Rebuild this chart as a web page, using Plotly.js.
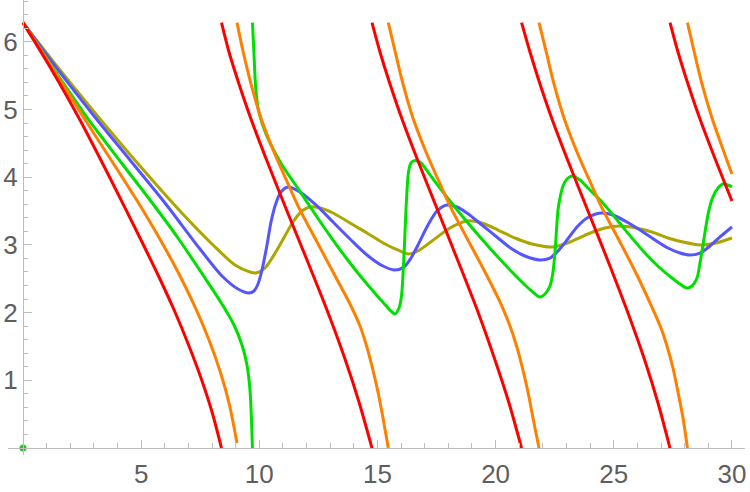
<!DOCTYPE html>
<html>
<head>
<meta charset="utf-8">
<script src="https://cdn.plot.ly/plotly-3.0.1.min.js"></script>
<style>html,body{margin:0;padding:0;background:#fff;}#chart{width:750px;height:492px;}</style>
</head>
<body>
<div id="chart"></div>
<script>
// Values; null separates the wrapped branches of a curve.
const redX = [0,1.143,2.412,3.682,4.994,5.755,6.432,7.025,7.533,8.0,8.40, null,
  8.40,8.718,9.141,9.649,10.326,11.172,12.019,12.865,13.627,14.219,14.769, null,
  14.769,15.108,15.531,16.039,16.716,17.562,18.409,19.255,19.975,20.567,21.10, null,
  21.10,21.456,21.879,22.387,23.064,23.910,24.757,25.603,26.323,26.873,27.381, null,
  27.381,27.719,28.142,28.650,29.327,30.004];
const redY = [6.283,5.628,4.845,3.988,3.072,2.526,2.009,1.507,1.034,0.532,0, null,
  6.283,5.849,5.377,4.860,4.239,3.501,2.777,2.038,1.315,0.680,0, null,
  6.283,5.849,5.377,4.860,4.239,3.501,2.762,2.009,1.300,0.665,0, null,
  6.283,5.849,5.377,4.860,4.239,3.501,2.762,1.994,1.285,0.665,0, null,
  6.283,5.849,5.377,4.860,4.239,3.649];

const orangeX = [0,1.354,2.581,3.893,4.994,5.840,6.602,7.279,7.871,8.337,8.718,9.056, null,
  9.056,9.310,9.649,10.072,10.622,11.257,11.722,12.442,13.119,13.839,14.262,14.515,14.769,15.023,15.235,15.46, null,
  15.46,15.743,16.081,16.504,17.055,17.689,18.155,18.874,19.551,20.229,20.609,20.863,21.117,21.371,21.583,21.837, null,
  21.837,22.133,22.471,22.895,23.445,24.080,24.545,25.264,25.941,26.576,26.999,27.253,27.507,27.719,27.931,28.12, null,
  28.12,28.396,28.735,29.158,29.708,30.004];
const orangeY = [6.283,5.554,4.874,4.165,3.560,3.058,2.570,2.083,1.595,1.137,0.665,0.074, null,
  6.283,5.864,5.377,4.874,4.372,3.870,3.516,3.043,2.600,2.127,1.802,1.536,1.211,0.827,0.443,0, null,
  6.283,5.864,5.377,4.874,4.372,3.870,3.516,3.043,2.600,2.127,1.802,1.536,1.211,0.827,0.443,0, null,
  6.283,5.864,5.377,4.874,4.372,3.870,3.516,3.043,2.585,2.112,1.773,1.507,1.182,0.827,0.443,0, null,
  6.283,5.864,5.377,4.874,4.328,4.047];

const greenX = [0,1.354,2.751,4.105,5.375,6.559,7.617,8.421,8.929,9.268,9.479,9.606,9.670,9.71, null,
  9.71,9.776,9.839,9.945,10.114,10.453,10.961,11.596,12.442,13.119,13.839,14.558,15.150,15.531,15.743,
  15.912,16.018,16.102,16.166,16.229,16.314,16.420,16.589,16.843,17.224,17.901,18.620,19.340,20.059,20.736,
  21.244,21.625,21.879,22.091,22.302,22.429,22.514,22.641,22.725,22.852,23.021,23.233,23.572,23.868,24.503,
  25.180,25.772,26.322,26.957,27.465,27.804,28.100,28.311,28.523,28.650,28.777,28.904,29.031,29.200,29.412,
  29.624,29.835,30.004];
const greenY = [6.283,5.569,4.860,4.239,3.663,3.102,2.555,2.127,1.817,1.521,1.226,0.857,0.414,0, null,
  6.283,5.805,5.362,5.022,4.801,4.506,4.180,3.855,3.412,3.072,2.733,2.422,2.186,2.038,1.979,
  2.068,2.245,2.703,3.191,3.663,4.077,4.210,4.247,4.210,4.033,3.722,3.412,3.117,2.836,2.585,
  2.408,2.290,2.230,2.275,2.393,2.600,2.895,3.516,3.693,3.870,3.973,4.018,3.959,3.855,3.634,
  3.353,3.102,2.880,2.659,2.511,2.422,2.363,2.393,2.511,2.733,2.999,3.279,3.516,3.708,3.840,
  3.900,3.885,3.855];

const blueX = [0,1.354,3.005,4.528,6.009,7.490,8.421,9.099,9.564,9.776,9.945,10.114,10.326,10.495,10.707,
  10.918,11.215,11.722,12.442,13.119,13.839,14.558,15.235,15.743,16.124,16.420,16.716,17.139,17.520,17.943,
  18.366,18.789,19.424,20.102,20.694,21.244,21.879,22.302,22.641,23.021,23.445,23.868,24.460,24.968,25.476,
  26.111,26.746,27.296,27.804,28.227,28.650,29.073,29.496,30.004];
const blueY = [6.283,5.643,4.904,4.254,3.619,2.939,2.541,2.349,2.290,2.319,2.422,2.629,2.999,3.338,3.619,
  3.781,3.855,3.781,3.575,3.338,3.087,2.851,2.688,2.629,2.674,2.806,2.999,3.294,3.501,3.589,
  3.560,3.471,3.294,3.102,2.939,2.836,2.777,2.806,2.910,3.072,3.264,3.397,3.471,3.442,3.353,
  3.220,3.072,2.954,2.880,2.851,2.880,2.984,3.117,3.264];

const oliveX = [0,1.566,3.259,4.951,6.644,8.041,8.972,9.606,9.860,10.241,10.749,11.426,11.807,12.146,12.569,
  13.119,13.839,14.558,15.319,15.954,16.293,16.716,17.309,18.070,18.789,19.424,20.102,20.821,21.541,22.429,
  23.148,23.910,24.630,25.264,25.941,26.619,27.296,27.931,28.650,29.327,30.004];
const oliveY = [6.283,5.583,4.860,4.165,3.501,2.999,2.703,2.600,2.585,2.659,2.925,3.338,3.501,3.560,3.545,
  3.471,3.323,3.176,3.013,2.910,2.866,2.910,3.058,3.250,3.353,3.323,3.220,3.102,3.013,2.969,
  3.043,3.161,3.250,3.279,3.250,3.191,3.102,3.043,2.999,3.028,3.102];

const originX = [0];
const originY = [0];

const xTicks = [5,10,15,20,25,30];
const yTicks = [1,2,3,4,5,6];

const series = [
  {x: oliveX, y: oliveY, color: '#ADA600'},
  {x: blueX, y: blueY, color: '#5555FF'},
  {x: greenX, y: greenY, color: '#00E000'},
  {x: orangeX, y: orangeY, color: '#FF8000'},
  {x: redX, y: redY, color: '#FF0000'}
];

const traces = series.map(s => ({
  x: s.x, y: s.y, type: 'scatter', mode: 'lines',
  connectgaps: false,
  line: {color: s.color, width: 3, shape: 'spline', smoothing: 0.8},
  hoverinfo: 'skip'
}));
traces.push({x: originX, y: originY, type: 'scatter', mode: 'markers',
  marker: {color: '#33BB33', size: 7}, hoverinfo: 'skip', cliponaxis: false});

const axisGray = '#BDBDBD';
const tickFont = {family: 'Liberation Sans, Arial, sans-serif', size: 26, color: '#5E5E5E'};

const layout = {
  width: 750, height: 492,
  margin: {l: 8, r: 5, t: 0, b: 37},
  paper_bgcolor: '#ffffff', plot_bgcolor: '#ffffff',
  showlegend: false,
  xaxis: {
    range: [-0.635, 30.555], anchor: 'free', position: 0.01538,
    showline: true, linecolor: axisGray, linewidth: 1,
    ticks: 'inside', ticklen: 8, tickcolor: axisGray, tickwidth: 1,
    tickmode: 'array', tickvals: xTicks, ticktext: xTicks.map(String),
    ticklabelstandoff: 3,
    showgrid: false, zeroline: false, tickfont: tickFont,
    minor: {ticks: 'inside', ticklen: 5, tickcolor: axisGray, tickmode: 'linear', tick0: 0, dtick: 1, showgrid: false}
  },
  yaxis: {
    range: [-0.103, 6.617], anchor: 'free', position: 0.02035,
    showline: true, linecolor: axisGray, linewidth: 1,
    ticks: 'inside', ticklen: 8, tickcolor: axisGray, tickwidth: 1,
    tickmode: 'array', tickvals: yTicks, ticktext: yTicks.map(String),
    showgrid: false, zeroline: false, tickfont: tickFont,
    minor: {ticks: 'inside', ticklen: 4, tickcolor: axisGray, tickmode: 'linear', tick0: 0, dtick: 0.2, showgrid: false}
  }
};

Plotly.newPlot('chart', traces, layout, {staticPlot: true, displayModeBar: false});
</script>
</body>
</html>
